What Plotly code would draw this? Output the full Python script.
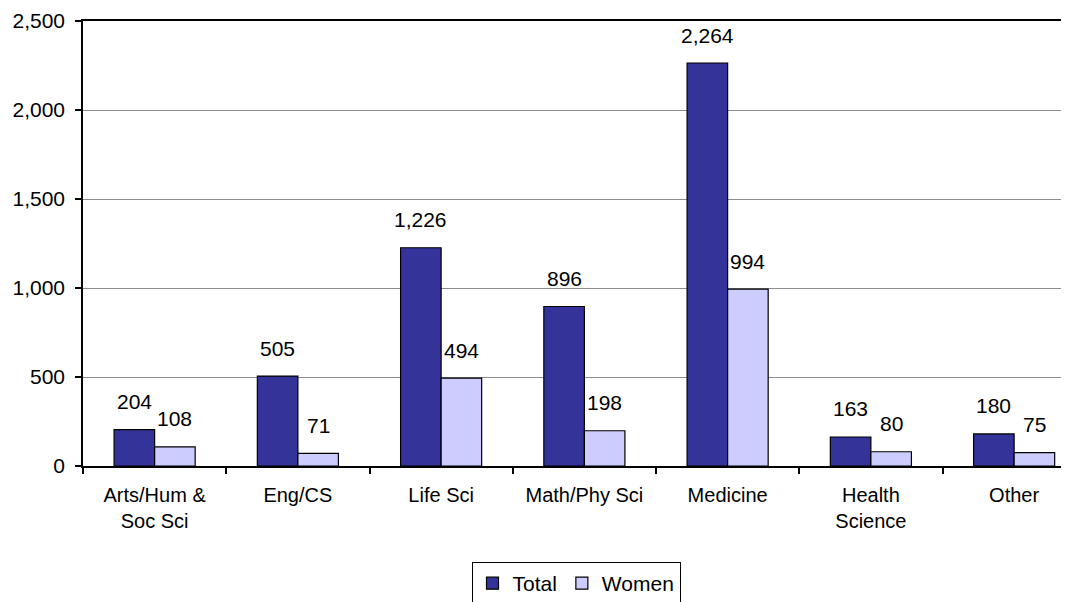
import plotly.graph_objects as go

categories = ["Arts/Hum &<br>Soc Sci", "Eng/CS", "Life Sci", "Math/Phy Sci",
              "Medicine", "Health<br>Science", "Other"]
total = [204, 505, 1226, 896, 2264, 163, 180]
women = [108, 71, 494, 198, 994, 80, 75]
y_ticks = [0, 500, 1000, 1500, 2000, 2500]

FONT = "Liberation Sans, Arial, sans-serif"
FS = 21

fig = go.Figure()
fig.add_trace(go.Bar(name="Total", x=categories, y=total,
                     marker=dict(color="#333399", line=dict(color="black", width=1.2))))
fig.add_trace(go.Bar(name="Women", x=categories, y=women,
                     marker=dict(color="#CCCCFF", line=dict(color="black", width=1.2))))

# data labels above bars
cat_w = (1061 - 75) / 6.883
bar_w = cat_w * 0.283
annotations = []
for series, shift in ((total, -bar_w / 2), (women, bar_w / 2)):
    for c, v in zip(categories, series):
        annotations.append(dict(x=c, y=v, xref="x", yref="y", text=f"{v:,}",
                                showarrow=False, xshift=shift, yshift=28,
                                yanchor="middle", xanchor="center",
                                font=dict(family=FONT, size=FS, color="black")))

fig.update_layout(
    width=1061, height=594,
    margin=dict(l=75, r=0, t=13, b=136, pad=0),
    paper_bgcolor="white", plot_bgcolor="white",
    barmode="group", bargap=0.434, bargroupgap=0,
    font=dict(family=FONT, size=FS, color="black"),
    annotations=annotations,
    showlegend=True,
    legend=dict(orientation="h", x=0.5, xanchor="center", xref="paper",
                y=(594 - 554) / 594, yanchor="top", yref="container",
                bordercolor="black", borderwidth=1, bgcolor="white",
                font=dict(family=FONT, size=21, color="black"),
                traceorder="normal"),
)
fig.update_xaxes(
    type="category", range=[-0.5, 6.383],
    showline=True, linecolor="black", linewidth=1.5, mirror=True,
    ticks="outside", tickson="boundaries", ticklen=6, tickcolor="black", tickwidth=1.5,
    ticklabelstandoff=10,
    showgrid=False, tickfont=dict(family=FONT, size=20, color="black"),
)
fig.update_yaxes(
    range=[0, 2500], tickvals=y_ticks, tickformat=",",
    showline=True, linecolor="black", linewidth=1.5,
    ticks="outside", ticklen=6, tickcolor="black", tickwidth=1.5,
    ticklabelstandoff=6,
    showgrid=True, gridcolor="#8c8c8c", gridwidth=1, zeroline=False,
    tickfont=dict(family=FONT, size=FS, color="black"),
)

fig.write_html("out.html")
